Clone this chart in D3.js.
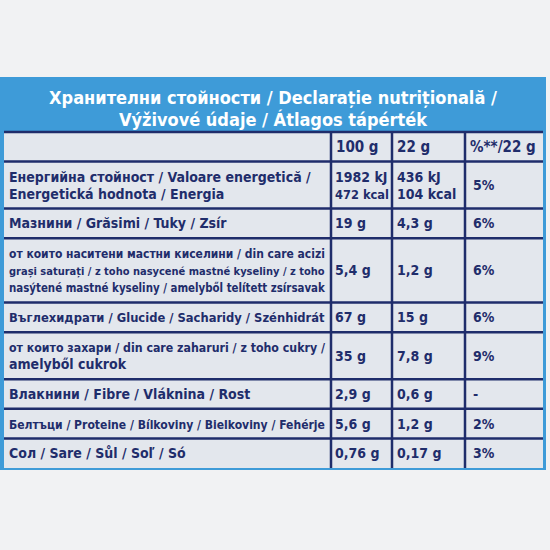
<!DOCTYPE html>
<html>
<head>
<meta charset="utf-8">
<style>
  body { margin: 0; background: #f1f2f3; }
  text { font-family: "DejaVu Sans Condensed", "Liberation Sans Narrow", sans-serif; font-weight: bold; }
</style>
</head>
<body>
<script src="https://cdn.jsdelivr.net/npm/d3@7"></script>
<script>
  // table content
  var titleLines = ["Хранителни стойности / Declarație nutrițională /", "Výživové údaje / Átlagos tápérték"];
  var columns = ["100 g", "22 g", "%**/22 g"];
  var labels = [
    ["Енергийна стойност / Valoare energetică /", "Energetická hodnota / Energia"],
    ["Мазнини / Grăsimi / Tuky / Zsír"],
    ["от които наситени мастни киселини / din care acizi", "grași saturați / z toho nasycené mastné kyseliny / z toho", "nasýtené mastné kyseliny / amelyből telített zsírsavak"],
    ["Въглехидрати / Glucide / Sacharidy / Szénhidrát"],
    ["от които захари / din care zaharuri / z toho cukry /", "amelyből cukrok"],
    ["Влакнини / Fibre / Vláknina / Rost"],
    ["Белтъци / Proteine / Bílkoviny / Bielkoviny / Fehérje"],
    ["Сол / Sare / Sůl / Soľ / Só"]
  ];
  var per100 = [["1982 kJ", "472 kcal"], ["19 g"], ["5,4 g"], ["67 g"], ["35 g"], ["2,9 g"], ["5,6 g"], ["0,76 g"]];
  var per22 = [["436 kJ", "104 kcal"], ["4,3 g"], ["1,2 g"], ["15 g"], ["7,8 g"], ["0,6 g"], ["1,2 g"], ["0,17 g"]];
  var pct = ["5%", "6%", "6%", "6%", "9%", "-", "2%", "3%"];

  var W = 550, H = 550;
  var navy = "#1f2d6b";
  var svg = d3.select("body").append("svg").attr("width", W).attr("height", H);

  var panel = {left: 0, right: 546, top: 77, band: 132, bottom: 470};

  // blue panel and header band
  svg.append("rect").attr("x", panel.left).attr("y", panel.top)
    .attr("width", panel.right - panel.left).attr("height", panel.bottom - panel.top)
    .attr("fill", "#3e9bd8");
  svg.append("rect").attr("x", 4).attr("y", panel.band)
    .attr("width", panel.right - 4 - 3).attr("height", panel.bottom - panel.band - 2)
    .attr("fill", "#e3e7ed");

  svg.selectAll(".title").data(titleLines).enter().append("text")
    .attr("x", 273).attr("y", (d, i) => 104 + i * 22)
    .attr("text-anchor", "middle").attr("fill", "#ffffff")
    .style("font-size", "18px").text(d => d);

  // row layout: weight by number of text lines
  var weights = [1].concat(labels.map(l => l.length)).map(n => 12 + 17 * n);
  var cum = [0];
  weights.forEach(w => cum.push(cum[cum.length - 1] + w));
  var y = d3.scaleLinear().domain([0, cum[cum.length - 1]]).range([panel.band, panel.bottom - 2]);

  var colX = [4, 331, 392, 465, panel.right - 3];

  var g = svg.append("g");
  // horizontal lines
  g.selectAll(".hl").data(cum.slice(0, -1)).enter().append("line")
    .attr("x1", 4).attr("x2", colX[4])
    .attr("y1", d => y(d)).attr("y2", d => y(d))
    .attr("stroke", navy).attr("stroke-width", 2.5);
  // vertical lines
  g.selectAll(".vl").data(colX.slice(1, 4)).enter().append("line")
    .attr("x1", d => d).attr("x2", d => d)
    .attr("y1", y(0)).attr("y2", panel.bottom - 2)
    .attr("stroke", navy).attr("stroke-width", 2.5);

  function cellText(lines, x, r, maxW, size) {
    var top = y(cum[r]), bot = y(cum[r + 1]);
    var mid = (top + bot) / 2, lh = 17;
    lines.forEach(function (s, i) {
      var t = g.append("text").attr("x", x)
        .attr("y", mid + (i - (lines.length - 1) / 2) * lh + 5)
        .attr("fill", navy).style("font-size", size + "px").text(s);
      var w = t.node().getComputedTextLength();
      if (w > maxW) t.style("font-size", (size * maxW / w).toFixed(2) + "px");
    });
  }

  columns.forEach((c, j) => cellText([c], colX[j + 1] + 5, 0, colX[j + 2] - colX[j + 1] - 10, 15));
  labels.forEach(function (l, i) {
    var r = i + 1;
    cellText(l, 9, r, 316, 14);
    cellText(per100[i], colX[1] + 4, r, 54, 14);
    cellText(per22[i], colX[2] + 5, r, 62, 14);
    cellText([pct[i]], colX[3] + 8, r, 70, 14);
  });
</script>
</body>
</html>
